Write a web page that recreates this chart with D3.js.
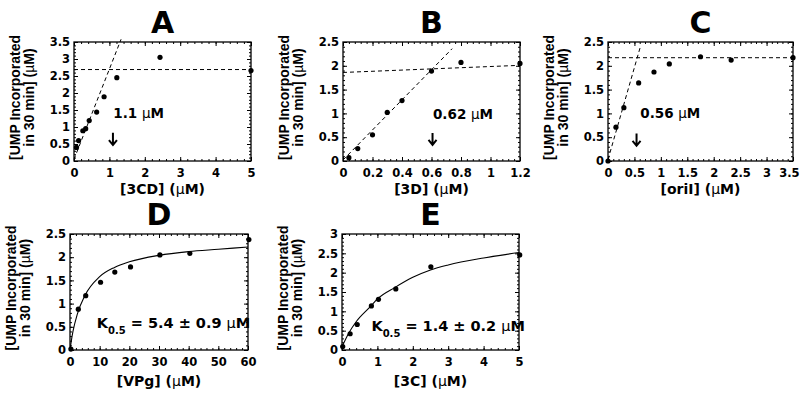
<!DOCTYPE html>
<html>
<head>
<meta charset="utf-8">
<script src="https://cdn.jsdelivr.net/npm/d3@7"></script>
<style>
  body { margin: 0; background: #fff; }
  svg text { font-family: "DejaVu Sans", sans-serif; font-weight: bold; fill: #000; }
  .ylab { font-family: "Liberation Sans", Arial, sans-serif; }
  .mu { font-weight: normal; }
</style>
</head>
<body>
<div id="chart"></div>
<script>
// DATOS.
// A: [3CD]
const aConc = [0.07, 0.13, 0.25, 0.33, 0.43, 0.64, 0.85, 1.21, 2.43, 5.0];
const aUmp  = [0.40, 0.60, 0.89, 0.95, 1.19, 1.44, 1.89, 2.45, 3.05, 2.66];
const aSlopeX = [0, 1.33], aSlopeY = [0.05, 3.58];
const aPlatX = [0, 5], aPlatY = [2.69, 2.69];
// B: [3D]
const bConc = [0.04, 0.1, 0.2, 0.3, 0.4, 0.6, 0.8, 1.2];
const bUmp  = [0.07, 0.26, 0.55, 1.02, 1.27, 1.89, 2.07, 2.05];
const bSlopeX = [0, 0.74], bSlopeY = [0.02, 2.36];
const bPlatX = [0, 1.2], bPlatY = [1.86, 2.01];
// C: [oriI]
const cConc = [0, 0.15, 0.3, 0.58, 0.87, 1.16, 1.75, 2.33, 3.5];
const cUmp  = [0.0, 0.71, 1.12, 1.64, 1.87, 2.04, 2.19, 2.12, 2.17];
const cSlopeX = [0, 0.62], cSlopeY = [0.03, 2.43];
const cPlatX = [0, 3.5], cPlatY = [2.17, 2.17];
// D: [VPg]
const dConc = [0.3, 2.8, 5.3, 10.3, 15.1, 20.4, 30.3, 40.4, 60.3];
const dUmp  = [0.02, 0.88, 1.17, 1.46, 1.68, 1.79, 2.05, 2.08, 2.38];
const dFitX = [0, 0.5, 1, 2.5, 5, 10, 15, 20, 30, 40, 50, 60];
const dFitY = [0, 0.22, 0.4, 0.78, 1.17, 1.58, 1.78, 1.9, 2.04, 2.12, 2.17, 2.22];
// E: [3C]
const eConc = [0.02, 0.23, 0.43, 0.83, 1.03, 1.52, 2.51, 5.02];
const eUmp  = [0.09, 0.42, 0.66, 1.14, 1.31, 1.58, 2.15, 2.46];
const eFitX = [0, 0.2, 0.4, 0.8, 1, 1.5, 2, 2.5, 3, 4, 5];
const eFitY = [0.08, 0.45, 0.73, 1.12, 1.32, 1.62, 1.88, 2.07, 2.2, 2.38, 2.52];

// Ticks.
const aXTicks = [0, 1, 2, 3, 4, 5];
const bXTicks = [0, 0.2, 0.4, 0.6, 0.8, 1, 1.2];
const cXTicks = [0, 0.5, 1, 1.5, 2, 2.5, 3, 3.5];
const dXTicks = [0, 10, 20, 30, 40, 50, 60];
const eXTicks = [0, 1, 2, 3, 4, 5];
const yTicks35 = [0, 0.5, 1, 1.5, 2, 2.5, 3, 3.5];
const yTicks25 = [0, 0.5, 1, 1.5, 2, 2.5];
const yTicks3  = [0, 0.5, 1, 1.5, 2, 2.5, 3];

const panelNames = ["A", "B", "C", "D", "E"];
const xLabels = ["[3CD]", "[3D]", "[oriI]", "[VPg]", "[3C]"];
const kNotes = ["1.1", "0.62", "0.56", "5.4 ± 0.9", "1.4 ± 0.2"];

//--------------------------------------------------
// MAQUETADO.
const width = 800, height = 400;
const panels = [
  {box: [74, 251, 42, 161], xd: [0, 5], yd: [0, 3.5], xt: aXTicks, yt: yTicks35, xm: 0.2, ym: 0.1,
   px: aConc, py: aUmp, dashes: [[aSlopeX, aSlopeY], [aPlatX, aPlatY]],
   note: [1.11, 1.26], arrow: [1.1, 0.83, 0.47]},
  {box: [343, 520, 42, 161], xd: [0, 1.2], yd: [0, 2.5], xt: bXTicks, yt: yTicks25, xm: 0.04, ym: 0.1,
   px: bConc, py: bUmp, dashes: [[bSlopeX, bSlopeY], [bPlatX, bPlatY]],
   note: [0.61, 0.88], arrow: [0.607, 0.59, 0.34]},
  {box: [608, 793, 42, 161], xd: [0, 3.5], yd: [0, 2.5], xt: cXTicks, yt: yTicks25, xm: 0.1, ym: 0.1,
   px: cConc, py: cUmp, dashes: [[cSlopeX, cSlopeY], [cPlatX, cPlatY]],
   note: [0.61, 0.9], arrow: [0.54, 0.58, 0.32]},
  {box: [70, 248, 234, 350], xd: [0, 60], yd: [0, 2.5], xt: dXTicks, yt: yTicks25, xm: 2, ym: 0.1,
   px: dConc, py: dUmp, fit: [dFitX, dFitY], note: [9.0, 0.47], k: true},
  {box: [342, 519, 234, 350], xd: [0, 5], yd: [0, 3], xt: eXTicks, yt: yTicks3, xm: 0.2, ym: 0.1,
   px: eConc, py: eUmp, fit: [eFitX, eFitY], note: [0.83, 0.49], k: true}
];

const svg = d3.select("#chart").append("svg")
  .attr("width", width).attr("height", height);

function estiloEje(g){
  g.select(".domain").remove();
  g.attr("font-family", null).attr("font-size", null);
  g.selectAll("line").attr("stroke", "#000");
  g.selectAll("text").attr("font-size", "11.5px");
}

// Si una etiqueta se sale por la derecha, se mete dentro.
function ajustaBorde(g, x){
  g.selectAll(".tick text").each(function(d){
    const bb = this.getBBox();
    const sobra = x(d) + bb.x + bb.width - (width - 1);
    if (sobra > 0) d3.select(this).attr("dx", -sobra);
  });
}

function ejes(g, p, x, y){
  const [l, r, t, b] = p.box;
  const minX = d3.range(p.xd[0], p.xd[1] + p.xm / 2, p.xm);
  const minY = d3.range(p.yd[0], p.yd[1] + p.ym / 2, p.ym);
  // principales
  g.append("g").attr("transform", `translate(0,${b})`)
    .call(d3.axisBottom(x).tickValues(p.xt).tickSize(-4).tickPadding(8).tickFormat(d => d))
    .call(estiloEje)
    .call(ajustaBorde, x);
  g.append("g").attr("transform", `translate(0,${t})`)
    .call(d3.axisTop(x).tickValues(p.xt).tickSize(-4).tickFormat(""))
    .call(estiloEje);
  g.append("g").attr("transform", `translate(${l},0)`)
    .call(d3.axisLeft(y).tickValues(p.yt).tickSize(-4).tickPadding(4).tickFormat(d => d))
    .call(estiloEje);
  g.append("g").attr("transform", `translate(${r},0)`)
    .call(d3.axisRight(y).tickValues(p.yt).tickSize(-4).tickFormat(""))
    .call(estiloEje);
  // secundarios
  g.append("g").attr("transform", `translate(0,${b})`)
    .call(d3.axisBottom(x).tickValues(minX).tickSize(-2).tickFormat("")).call(estiloEje);
  g.append("g").attr("transform", `translate(0,${t})`)
    .call(d3.axisTop(x).tickValues(minX).tickSize(-2).tickFormat("")).call(estiloEje);
  g.append("g").attr("transform", `translate(${l},0)`)
    .call(d3.axisLeft(y).tickValues(minY).tickSize(-2).tickFormat("")).call(estiloEje);
  g.append("g").attr("transform", `translate(${r},0)`)
    .call(d3.axisRight(y).tickValues(minY).tickSize(-2).tickFormat("")).call(estiloEje);

  g.append("rect")
    .attr("x", l).attr("y", t).attr("width", r - l).attr("height", b - t)
    .attr("fill", "none").attr("stroke", "#000").attr("stroke-width", 1.3);
}

function leyendas(g, p, i){
  const [l, r, t, b] = p.box;
  const cx = (l + r) / 2, cy = (t + b) / 2 - 4;
  g.append("text").text(panelNames[i])
    .attr("x", cx).attr("y", t - 9)
    .attr("text-anchor", "middle").attr("font-size", "30px");

  const xl = g.append("text")
    .attr("x", cx).attr("y", b + (t < 100 ? 33 : 36))
    .attr("text-anchor", "middle").attr("font-size", "14px");
  xl.append("tspan").text(xLabels[i] + " (");
  xl.append("tspan").attr("class", "mu").text("µ");
  xl.append("tspan").text("M)");

  const yl = g.append("g").attr("transform", `translate(${l - 54},${cy}) rotate(-90)`);
  yl.append("text").attr("class", "ylab").attr("text-anchor", "middle")
    .attr("font-size", "14px").text("[UMP Incorporated");
  const y2 = yl.append("text").attr("class", "ylab").attr("text-anchor", "middle")
    .attr("y", 13.5).attr("font-size", "14px");
  y2.append("tspan").text("in 30 min] (");
  y2.append("tspan").attr("class", "mu").text("µ");
  y2.append("tspan").text("M)");
}

function contenido(g, p, i, x, y){
  const linea = d3.line().x(d => x(d[0])).y(d => y(d[1]));
  (p.dashes || []).forEach(function(dl){
    g.append("path")
      .datum(d3.zip(dl[0], dl[1]))
      .attr("d", linea)
      .attr("fill", "none").attr("stroke", "#000")
      .attr("stroke-width", 1).attr("stroke-dasharray", "4,3");
  });
  if (p.fit){
    g.append("path")
      .datum(d3.zip(p.fit[0], p.fit[1]))
      .attr("d", linea.curve(d3.curveMonotoneX))
      .attr("fill", "none").attr("stroke", "#000").attr("stroke-width", 1.1);
  }
  g.selectAll("circle.pt")
    .data(d3.zip(p.px, p.py)).enter()
    .append("circle").attr("class", "pt")
    .attr("cx", d => x(d[0])).attr("cy", d => y(d[1]))
    .attr("r", 2.6).attr("fill", "#000");

  // anotaciones
  const nt = g.append("text")
    .attr("x", x(p.note[0])).attr("y", y(p.note[1]))
    .attr("font-size", p.k ? "14.5px" : "13.5px");
  if (p.k){
    nt.append("tspan").text("K");
    nt.append("tspan").attr("font-size", "10px").attr("dy", 6).text("0.5");
    nt.append("tspan").attr("dy", -6).text(" = " + kNotes[i] + " ");
  } else {
    nt.append("tspan").text(kNotes[i] + " ");
  }
  nt.append("tspan").attr("class", "mu").text("µ");
  nt.append("tspan").text("M");

  if (p.arrow){
    const ax = x(p.arrow[0]), y0 = y(p.arrow[1]), y1 = y(p.arrow[2]);
    g.append("path")
      .attr("d", `M${ax},${y0}V${y1 - 1}M${ax - 4},${y1 - 5}L${ax},${y1}L${ax + 4},${y1 - 5}`)
      .attr("fill", "none").attr("stroke", "#000").attr("stroke-width", 2);
  }
}

function pintarPanel(p, i){
  const [l, r, t, b] = p.box;
  const x = d3.scaleLinear().domain(p.xd).range([l, r]);
  const y = d3.scaleLinear().domain(p.yd).range([b, t]);
  const g = svg.append("g").attr("id", "panel" + panelNames[i]);
  ejes(g, p, x, y);
  contenido(g, p, i, x, y);
  leyendas(g, p, i);
}

panels.forEach(pintarPanel);
</script>
</body>
</html>
